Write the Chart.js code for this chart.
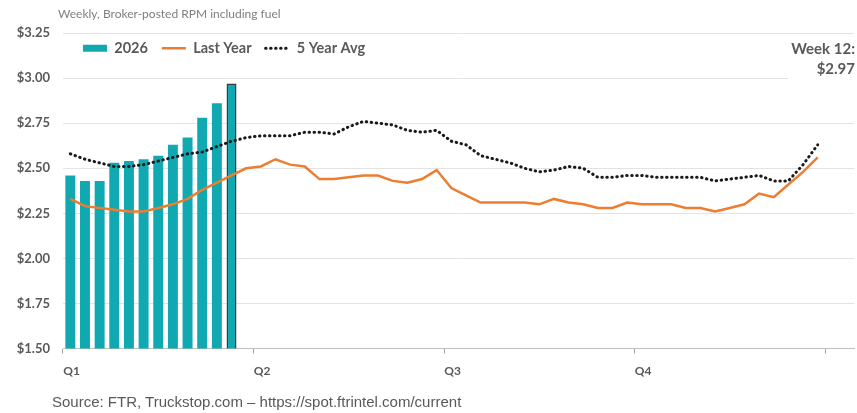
<!DOCTYPE html>
<html>
<head>
<meta charset="utf-8">
<title>Broker-posted RPM</title>
<script src="https://cdn.jsdelivr.net/npm/chart.js@4/dist/chart.umd.min.js"></script>
<style>
    html, body { margin: 0; padding: 0; background: #fff; }
    #wrap { position: relative; width: 857px; height: 413px; }
    #subtitle {
        position: absolute; left: 58px; top: 6px;
        font: 12px Lato, sans-serif; color: #7f7f7f; white-space: nowrap;
    }
    #source {
        position: absolute; left: 52px; top: 393px;
        font: 15px "Liberation Sans", Arial, sans-serif; color: #595959; white-space: nowrap;
    }
</style>
</head>
<body>
<div id="wrap">
    <canvas id="rpmChart" width="857" height="413"></canvas>
    <div id="subtitle">Weekly, Broker-posted RPM including fuel</div>
    <div id="source">Source: FTR, Truckstop.com – https://spot.ftrintel.com/current</div>
</div>
<script>
// weeks of the year (two spare slots on the right, like the source sheet)
var weeks = [];
for (var w = 1; w <= 54; w++) weeks.push(w);

var quarterLabels = ['Q1', 'Q2', 'Q3', 'Q4'];

// 2026 weekly RPM, weeks 1-12
var rpm2026 = [2.46, 2.43, 2.43, 2.53, 2.54, 2.55, 2.57, 2.63, 2.67, 2.78, 2.86, 2.97];

var lastYear = [
    2.33, 2.29, 2.28, 2.27, 2.26, 2.26, 2.28, 2.30, 2.33, 2.38, 2.42, 2.46, 2.50,
    2.51, 2.55, 2.52, 2.51, 2.44, 2.44, 2.45, 2.46, 2.46, 2.43, 2.42, 2.44, 2.49,
    2.39, 2.35, 2.31, 2.31, 2.31, 2.31, 2.30, 2.33, 2.31, 2.30, 2.28, 2.28, 2.31,
    2.30, 2.30, 2.30, 2.28, 2.28, 2.26, 2.28, 2.30, 2.36, 2.34, 2.41, 2.48, 2.56
];

var fiveYearAvg = [
    2.58, 2.55, 2.53, 2.51, 2.51, 2.52, 2.54, 2.56, 2.58, 2.59, 2.62, 2.65, 2.67,
    2.68, 2.68, 2.68, 2.70, 2.70, 2.69, 2.73, 2.76, 2.75, 2.74, 2.71, 2.70, 2.71,
    2.65, 2.63, 2.57, 2.55, 2.53, 2.50, 2.48, 2.49, 2.51, 2.50, 2.45, 2.45, 2.46,
    2.46, 2.45, 2.45, 2.45, 2.45, 2.43, 2.44, 2.45, 2.46, 2.43, 2.43, 2.52, 2.63
];

var yTicks = [1.50, 1.75, 2.00, 2.25, 2.50, 2.75, 3.00, 3.25];

var textGray = '#595959';
var teal = '#10a9b1';
var orange = '#ed7d31';

var lastIdx = rpm2026.length - 1;

// legend sits inside the plot, laid out in one row
var legendInPlot = {
    id: 'legendInPlot',
    beforeLayout: function(chart) {
        chart.legend.isHorizontal = function() { return true; };
    },
    afterLayout: function(chart) {
        var area = chart.chartArea;
        chart.legend.left = area.left + 6;
        chart.legend.right = area.right;
        chart.legend.top = area.top - 6;
    }
};

// "Week N: $x.xx" callout in the top right corner
var latestCallout = {
    id: 'latestCallout',
    afterDatasetsDraw: function(chart) {
        var ctx = chart.ctx;
        var right = chart.width - 2;
        ctx.save();
        ctx.fillStyle = '#fff';
        ctx.fillRect(788, 36, chart.width - 788, 46);
        ctx.fillStyle = textGray;
        ctx.font = 'bold 15px Lato, sans-serif';
        ctx.textAlign = 'right';
        ctx.textBaseline = 'middle';
        ctx.fillText('Week ' + (lastIdx + 1) + ':', right, 49);
        ctx.fillText('$' + rpm2026[lastIdx].toFixed(2), right, 69);
        ctx.restore();
    }
};

var ctx = document.getElementById('rpmChart').getContext('2d');
new Chart(ctx, {
    type: 'bar',
    data: {
        labels: weeks,
        datasets: [{
            label: '2026',
            data: rpm2026,
            backgroundColor: teal,
            borderColor: '#3a3a3a',
            borderWidth: rpm2026.map(function(v, i) { return i === lastIdx ? 1.5 : 0; }),
            borderSkipped: false,
            categoryPercentage: 1,
            barPercentage: 0.68,
            pointStyle: 'rect',
            order: 2
        }, {
            type: 'line',
            label: 'Last Year',
            data: lastYear,
            borderColor: orange,
            backgroundColor: orange,
            borderWidth: 2.5,
            pointRadius: 0,
            pointStyle: 'line',
            tension: 0,
            order: 1
        }, {
            type: 'line',
            label: '5 Year Avg',
            data: fiveYearAvg,
            borderColor: '#1a1a1a',
            backgroundColor: '#1a1a1a',
            borderWidth: 3,
            borderDash: [0.5, 4.5],
            borderCapStyle: 'round',
            pointRadius: 0,
            pointStyle: 'line',
            tension: 0,
            order: 0
        }]
    },
    options: {
        responsive: false,
        animation: false,
        layout: { padding: { top: 33, left: 0, right: 0, bottom: 25 } },
        plugins: {
            tooltip: { enabled: false },
            legend: {
                position: 'chartArea',
                align: 'start',
                labels: {
                    usePointStyle: true,
                    pointStyleWidth: 24,
                    boxHeight: 7,
                    padding: 14,
                    color: textGray,
                    font: { family: 'Lato', size: 14.5, weight: 'bold' },
                    sort: function(a, b) { return a.datasetIndex - b.datasetIndex; },
                    generateLabels: function(chart) {
                        var items = Chart.defaults.plugins.legend.labels.generateLabels(chart);
                        items.forEach(function(item) {
                            var ds = chart.data.datasets[item.datasetIndex];
                            if (ds.type === 'line') {
                                item.lineDash = ds.borderDash || [];
                                item.lineCap = ds.borderCapStyle || 'butt';
                                item.lineWidth = ds.borderWidth;
                                item.strokeStyle = ds.borderColor;
                            } else {
                                item.lineWidth = 0;
                            }
                        });
                        return items;
                    }
                }
            }
        },
        scales: {
            x: {
                offset: true,
                grid: {
                    offset: true,
                    drawOnChartArea: false,
                    drawTicks: true,
                    tickLength: 5,
                    color: function(c) { return c.index % 13 === 0 && c.index <= 52 ? '#a6a6a6' : 'rgba(0,0,0,0)'; }
                },
                border: { color: '#bfbfbf', width: 1 },
                ticks: {
                    autoSkip: false,
                    maxRotation: 0,
                    align: 'start',
                    labelOffset: -7,
                    padding: 10,
                    color: textGray,
                    font: { family: 'Lato', size: 12, weight: 'bold' },
                    callback: function(v, i) {
                        return i % 13 === 0 ? (quarterLabels[i / 13] || '') : '';
                    }
                }
            },
            y: {
                min: yTicks[0],
                max: yTicks[yTicks.length - 1],
                afterFit: function(scale) { scale.width = 63; },
                afterBuildTicks: function(scale) {
                    scale.ticks = yTicks.map(function(v) { return { value: v }; });
                },
                grid: { color: '#e3e3e3', drawTicks: false },
                border: { display: false },
                ticks: {
                    padding: 13,
                    color: textGray,
                    font: { family: 'Lato', size: 13, weight: 'bold' },
                    callback: function(v) { return '$' + Number(v).toFixed(2); }
                }
            }
        }
    },
    plugins: [legendInPlot, latestCallout]
});
</script>
</body>
</html>
